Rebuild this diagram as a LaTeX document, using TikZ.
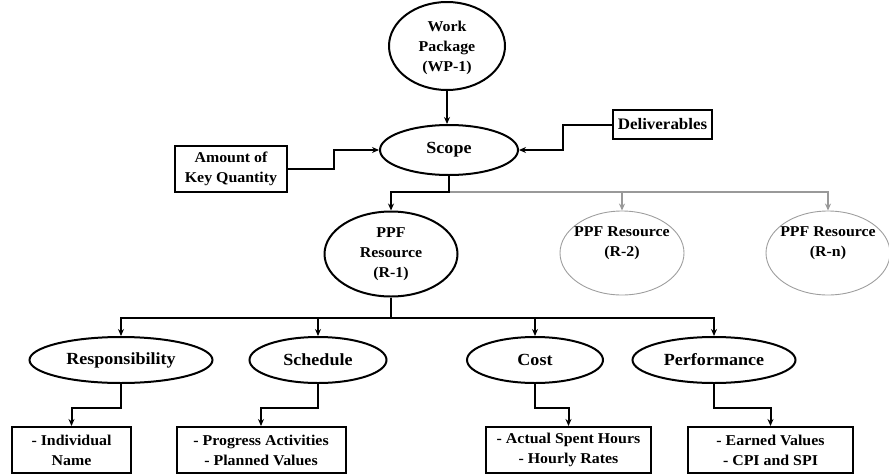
\documentclass[tikz,border=0pt]{standalone}
\usepackage{fontspec}
\setmainfont{Liberation Serif}[FakeStretch=1.06]
\usetikzlibrary{shapes.geometric,arrows.meta}

\begin{document}
\begin{tikzpicture}[x=1pt,y=-1pt,
  every node/.style={font=\bfseries\fontsize{15}{20}\selectfont, align=center},
  bigtxt/.style={font=\bfseries\fontsize{17}{20}\selectfont},
  oval/.style={ellipse, draw, line width=2pt, inner sep=0pt},
  ghost/.style={ellipse, draw=black!38, line width=0.9pt, inner sep=0pt},
  itembox/.style={draw, line width=2pt, inner sep=0pt},
  link/.style={line width=2pt, -{Stealth[length=7pt,width=6pt]}},
  glink/.style={line width=2pt, draw=black!40, -{Stealth[length=7pt,width=6pt]}},
]
\useasboundingbox (0,0) rectangle (889,474);

% top level
\node[oval, minimum width=116pt, minimum height=88pt, text depth=-6pt] (wp) at (447,46) {Work\\Package\\(WP-1)};
\node[oval, bigtxt, minimum width=138pt, minimum height=50pt] (scope) at (449,150) {Scope};
\node[itembox, minimum width=112pt, minimum height=46pt] (akq) at (231,169) {Amount of\\Key Quantity};
\node[itembox, font=\bfseries\fontsize{16}{20}\selectfont, minimum width=99pt, minimum height=29pt] (deliv) at (662.5,124.5) {Deliverables};

% resources
\node[oval, minimum width=133pt, minimum height=85pt] (r1) at (391,254) {PPF\\Resource\\(R-1)};
\node[ghost, minimum width=124pt, minimum height=84pt] (r2) at (622,253) {};
\node[ghost, minimum width=124pt, minimum height=84pt] (rn) at (828,253) {};
\node (r2txt) at (622,243) {PPF Resource\\(R-2)};
\node (rntxt) at (828,243) {PPF Resource\\(R-n)};

% attributes
\node[oval, bigtxt, minimum width=183pt, minimum height=46pt] (resp) at (121,360) {Responsibility};
\node[oval, bigtxt, minimum width=137pt, minimum height=46pt] (sched) at (318,360) {Schedule};
\node[oval, bigtxt, minimum width=136pt, minimum height=46pt] (cost) at (535,360) {Cost};
\node[oval, bigtxt, minimum width=163pt, minimum height=46pt] (perf) at (714,360) {Performance};

% details
\node[itembox, minimum width=119pt, minimum height=46pt] (b1) at (71.5,450) {- Individual\\Name};
\node[itembox, minimum width=169pt, minimum height=46pt] (b2) at (261,450) {- Progress Activities\\- Planned Values};
\node[itembox, minimum width=165pt, minimum height=46pt] (b3) at (568.5,450) {- Actual Spent Hours\\- Hourly Rates};
\node[itembox, minimum width=165pt, minimum height=46pt] (b4) at (770.5,450) {- Earned Values\\- CPI and SPI};

% junctions
\coordinate (j1) at (449,192);
\coordinate (j2) at (391,318);

% connectors
\draw[link] (wp.south) -- (wp.south |- scope.north);
\draw[link] (akq.east) -- ++(46,0) |- (scope.west);
\draw[link] (deliv.west) -- ++(-49,0) |- (scope.east);

\draw[glink] (j1) -| (rn.north);
\draw[glink] (j1) -| (r2.north);
\draw[link] (scope.south) -- (j1) -| (r1.north);

\draw[link] (r1.south) -- (j2) -| (resp.north);
\draw[link] (j2) -| (sched.north);
\draw[link] (j2) -| (cost.north);
\draw[link] (j2) -| (perf.north);

\draw[link] (resp.south) -- ++(0,24) -| (b1.north);
\draw[link] (sched.south) -- ++(0,24) -| (b2.north);
\draw[link] (cost.south) -- ++(0,24) -| (b3.north);
\draw[link] (perf.south) -- ++(0,24) -| (b4.north);
\end{tikzpicture}
\end{document}
